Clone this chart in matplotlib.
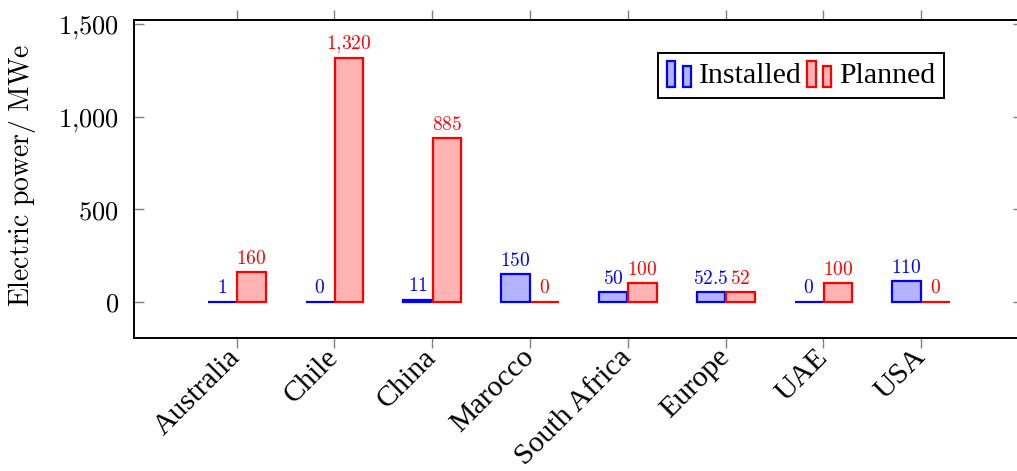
import numpy as np
import matplotlib.pyplot as plt
from matplotlib.legend_handler import HandlerBase
from matplotlib.patches import Rectangle

countries = ['Australia', 'Chile', 'China', 'Marocco', 'South Africa',
             'Europe', 'UAE', 'USA']
installed = [1, 0, 11, 150, 50, 52.5, 0, 110]
planned = [160, 1320, 885, 0, 100, 52, 100, 0]
yticks = [0, 500, 1000, 1500]

blue_face = (0.7, 0.7, 1.0)
red_face = (1.0, 0.7, 0.7)

plt.rcParams['mathtext.fontset'] = 'cm'


def fmt(v):
    # numbers in TeX style with a thousands separator
    if float(v).is_integer():
        s = '{:,}'.format(int(v)).replace(',', '{,}')
    else:
        s = str(v)
    return r'$\mathrm{' + s + '}$'


class TwoBars(HandlerBase):
    # legend marker made of two small bars of unequal height
    def create_artists(self, legend, orig, xd, yd, w, h, fontsize, trans):
        bw = w * 0.32
        kw = dict(facecolor=orig.get_facecolor(), edgecolor=orig.get_edgecolor(),
                  linewidth=orig.get_linewidth(), transform=trans)
        r1 = Rectangle((-xd, -yd - 0.2 * h), bw, h * 1.25, **kw)
        r2 = Rectangle((-xd + w * 0.62, -yd - 0.2 * h), bw, h * 1.0, **kw)
        return [r1, r2]


fig = plt.figure(figsize=(10.17, 4.71), dpi=100)
ax = fig.add_axes([134 / 1017, 133 / 471, 889 / 1017, 318 / 471])

x = np.arange(len(countries))
w = 0.29
b1 = ax.bar(x - 0.15, installed, w, facecolor=blue_face, edgecolor='blue',
            linewidth=1.6, label='Installed')
b2 = ax.bar(x + 0.15, planned, w, facecolor=red_face, edgecolor='red',
            linewidth=1.6, label='Planned')

for xi, v in zip(x - 0.15, installed):
    ax.annotate(fmt(v), (xi, v), xytext=(0, 6), textcoords='offset points',
                ha='center', va='baseline', color='blue', fontsize=14)
for xi, v in zip(x + 0.15, planned):
    ax.annotate(fmt(v), (xi, v), xytext=(0, 6), textcoords='offset points',
                ha='center', va='baseline', color='red', fontsize=14)

ax.set_xlim(-1.05, 8.04)
ax.set_ylim(-196, 1523)

ax.set_xticks(x)
ax.set_xticklabels(countries, rotation=45, ha='right', va='center',
                   rotation_mode='anchor', family='Liberation Serif',
                   fontsize=21.5)
ax.set_yticks(yticks)
ax.set_yticklabels([fmt(v) for v in yticks], fontsize=19)

ax.tick_params(axis='x', direction='out', length=7, width=1, color='0.5',
               top=True, pad=4)
ax.tick_params(axis='y', direction='in', length=7, width=1, color='0.5',
               right=True, pad=11)
for s in ax.spines.values():
    s.set_linewidth(1.4)

ax.set_ylabel(r'$\mathrm{Electric\ power/\ MWe}$', fontsize=20)
ax.yaxis.set_label_coords(-0.108, 0.51)

leg = ax.legend(handles=[b1.patches[0], b2.patches[0]],
                labels=['Installed', 'Planned'],
                handler_map={Rectangle: TwoBars()},
                loc='upper right', bbox_to_anchor=(0.911, 0.896), ncol=2,
                prop={'family': 'Liberation Serif', 'size': 21.5},
                fancybox=False, framealpha=1, edgecolor='black',
                handlelength=0.85, handletextpad=0.2, columnspacing=0.2,
                borderpad=0.3, borderaxespad=0)
leg.get_frame().set_linewidth(1.4)

fig.savefig('out.png', dpi=100)
